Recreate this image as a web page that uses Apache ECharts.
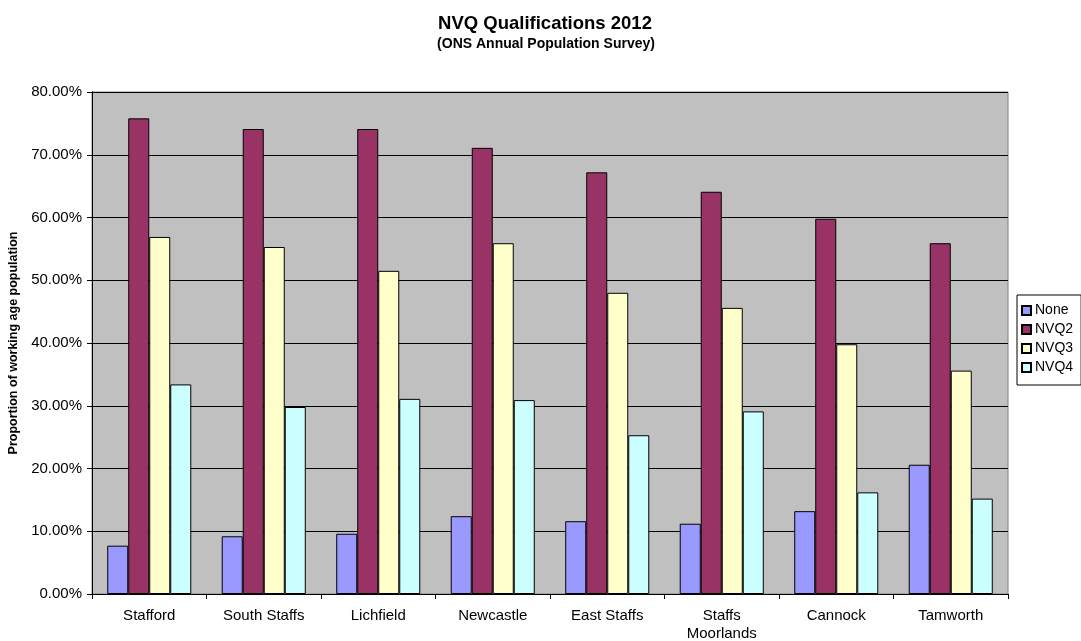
<!DOCTYPE html>
<html><head><meta charset="utf-8">
<script src="https://cdn.jsdelivr.net/npm/echarts@6/dist/echarts.min.js"></script>
<style>html,body{margin:0;padding:0;background:#fff}#c{width:1081px;height:641px}</style>
</head><body><div id="c"></div>
<script>
const categories = ['Stafford','South Staffs','Lichfield','Newcastle','East Staffs','Staffs\nMoorlands','Cannock','Tamworth'];
const seriesNames = ['None','NVQ2','NVQ3','NVQ4'];
const none = [7.7, 9.2, 9.6, 12.4, 11.6, 11.2, 13.2, 20.6];
const nvq2 = [75.8, 74.1, 74.1, 71.1, 67.2, 64.1, 59.8, 55.9];
const nvq3 = [56.9, 55.3, 51.5, 55.9, 48.0, 45.6, 39.8, 35.6];
const nvq4 = [33.4, 29.8, 31.1, 30.9, 25.3, 29.1, 16.2, 15.2];
const colors = ['#9999FF','#993366','#FFFFCC','#CCFFFF'];
const values = [none, nvq2, nvq3, nvq4];
const font = 'Liberation Sans, Arial, sans-serif';

const chart = echarts.init(document.getElementById('c'), null, {renderer:'canvas'});
chart.setOption({
  animation:false,
  backgroundColor:'#ffffff',
  textStyle:{fontFamily:font},
  title:[
    {text:'NVQ Qualifications 2012', left:540, top:9, textAlign:'center',
     textStyle:{fontSize:18.5, fontWeight:'bold', color:'#000', fontFamily:font}},
    {text:'(ONS Annual Population Survey)', left:541, top:32, textAlign:'center',
     textStyle:{fontSize:14, fontWeight:'bold', color:'#000', fontFamily:font}}
  ],
  legend:{
    orient:'vertical', left:1017, top:295, itemWidth:9, itemHeight:9, itemGap:4,
    padding:[8,8,10,4], borderColor:'#000', borderWidth:1, backgroundColor:'#fff',
    icon:'rect', data:seriesNames,
    textStyle:{fontSize:14, color:'#000', fontFamily:font, padding:[0,0,0,-1], lineHeight:15}
  },
  grid:{left:92, right:73, top:92, bottom:47, containLabel:false, outerBoundsMode:'none',
        show:true, backgroundColor:'#C0C0C0', borderColor:'#808080', borderWidth:1},
  xAxis:{
    type:'category', data:categories,
    axisLine:{lineStyle:{color:'#000', width:1}},
    axisTick:{show:true, length:5, lineStyle:{color:'#000'}},
    axisLabel:{fontSize:15, color:'#000', margin:13, lineHeight:18, fontFamily:font}
  },
  yAxis:{
    type:'value', min:0, max:80, interval:10,
    name:'Proportion of working age population', nameLocation:'middle', nameGap:67,
    nameTextStyle:{fontSize:12.5, fontWeight:'bold', color:'#000', fontFamily:font},
    axisLine:{show:true, lineStyle:{color:'#000', width:1}},
    axisTick:{show:true, length:5, lineStyle:{color:'#000'}},
    axisLabel:{fontSize:15, color:'#000', margin:10, fontFamily:font, formatter:v=>v.toFixed(2)+'%'},
    splitLine:{show:true, lineStyle:{color:'#000', width:1}}
  },
  series: seriesNames.map((n,i)=>({
    name:n, type:'bar', data:values[i], barGap:'0%', barCategoryGap:'26.6%',
    itemStyle:{color:colors[i], borderColor:'#000', borderWidth:1}
  }))
});
</script></body></html>
